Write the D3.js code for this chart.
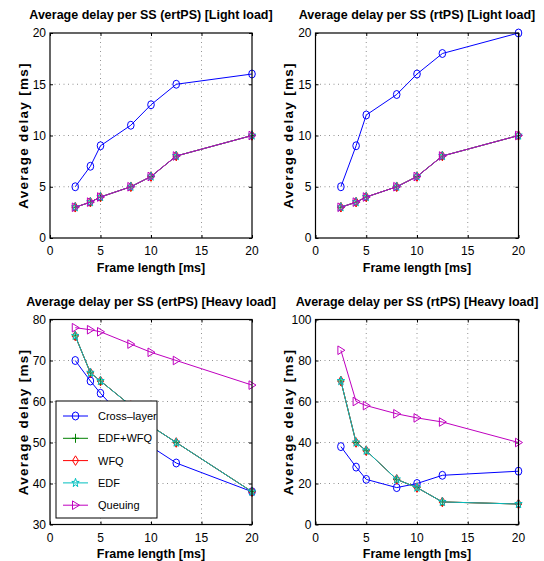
<!DOCTYPE html>
<html>
<head>
<meta charset="UTF-8" />
<title>Average delay per SS</title>
<script src="https://d3js.org/d3.v7.min.js"></script>
<style>
    body, html { margin: 0; padding: 0; background: #fff; }
    svg { display: block; font-family: "Liberation Sans", Arial, sans-serif; }
    .title, .xlabel, .ylabel { font-weight: bold; fill: #000; }
    .tick-label { font-size: 12px; fill: #000; }
    .grid { stroke: #777; stroke-width: 0.8; stroke-dasharray: 1 3.5; }
</style>
</head>
<body>
<div id="chart"></div>
<script>
// frame lengths (x axis) shared by all panels
const frameLen = [2.5, 4, 5, 8, 10, 12.5, 20];
const seriesNames = ["Cross\u2013layer", "EDF+WFQ", "WFQ", "EDF", "Queuing"];
const xTicks = [0, 5, 10, 15, 20];

// ertPS light load
const ertLightCross = [5, 7, 9, 11, 13, 15, 16];
const ertLightEdfWfq = [3, 3.5, 4, 5, 6, 8, 10];
const ertLightWfq = [3, 3.5, 4, 5, 6, 8, 10];
const ertLightEdf = [3, 3.5, 4, 5, 6, 8, 10];
const ertLightQueue = [3, 3.5, 4, 5, 6, 8, 10];

// rtPS light load
const rtLightCross = [5, 9, 12, 14, 16, 18, 20];
const rtLightEdfWfq = [3, 3.5, 4, 5, 6, 8, 10];
const rtLightWfq = [3, 3.5, 4, 5, 6, 8, 10];
const rtLightEdf = [3, 3.5, 4, 5, 6, 8, 10];
const rtLightQueue = [3, 3.5, 4, 5, 6, 8, 10];

// ertPS heavy load
const ertHeavyCross = [70, 65, 62, 54, 49, 45, 38];
const ertHeavyEdfWfq = [76, 67, 65, 59, 54, 50, 38];
const ertHeavyWfq = [76, 67, 65, 59, 54, 50, 38];
const ertHeavyEdf = [76, 67, 65, 59, 54, 50, 38];
const ertHeavyQueue = [78, 77.5, 77, 74, 72, 70, 64];

// rtPS heavy load
const rtHeavyCross = [38, 28, 22, 18, 20, 24, 26];
const rtHeavyEdfWfq = [70, 40, 36, 22, 18, 11, 10];
const rtHeavyWfq = [70, 40, 36, 22, 18, 11, 10];
const rtHeavyEdf = [70, 40, 36, 22, 18, 11, 10];
const rtHeavyQueue = [85, 60, 58, 54, 52, 50, 40];

const yTicksLight = [0, 5, 10, 15, 20];
const yTicksErtHeavy = [30, 40, 50, 60, 70, 80];
const yTicksRtHeavy = [0, 20, 40, 60, 80, 100];

const colors = ["#0000ff", "#008000", "#ff0000", "#00bfbf", "#bf00bf"];
const markers = ["circle", "plus", "diamond", "star", "triangle"];

const panels = [
    { title: "Average delay per SS (ertPS) [Light load]", box: [50, 252, 33, 238],
      yDomain: [0, 20], yTicks: yTicksLight,
      series: [ertLightCross, ertLightEdfWfq, ertLightWfq, ertLightEdf, ertLightQueue] },
    { title: "Average delay per SS (rtPS) [Light load]", box: [315.5, 518.5, 33, 238],
      yDomain: [0, 20], yTicks: yTicksLight,
      series: [rtLightCross, rtLightEdfWfq, rtLightWfq, rtLightEdf, rtLightQueue] },
    { title: "Average delay per SS (ertPS) [Heavy load]", box: [50, 252, 319.5, 524.5],
      yDomain: [30, 80], yTicks: yTicksErtHeavy, legend: true,
      series: [ertHeavyCross, ertHeavyEdfWfq, ertHeavyWfq, ertHeavyEdf, ertHeavyQueue] },
    { title: "Average delay per SS (rtPS) [Heavy load]", box: [315.5, 518.5, 319.5, 524.5],
      yDomain: [0, 100], yTicks: yTicksRtHeavy,
      series: [rtHeavyCross, rtHeavyEdfWfq, rtHeavyWfq, rtHeavyEdf, rtHeavyQueue] }
];

const width = 544, height = 561;
const svg = d3.select("#chart").append("svg")
    .attr("width", width)
    .attr("height", height);

// marker shapes, slightly narrower than tall like the source image
function markerPath(type) {
    switch (type) {
        case "circle": return null;
        case "plus": return "M-3.5,0H3.5M0,-4.5V4.5";
        case "diamond": return "M0,-4.8L3,0L0,4.8L-3,0Z";
        case "triangle": return "M-3,-4.3L4,0L-3,4.3Z";
        case "star": {
            const pts = [];
            for (let i = 0; i < 10; i++) {
                const r = i % 2 === 0 ? 4.6 : 1.9;
                const a = -Math.PI / 2 + i * Math.PI / 5;
                pts.push([r * Math.cos(a) * 0.85, r * Math.sin(a)]);
            }
            return "M" + pts.map(p => p.join(",")).join("L") + "Z";
        }
    }
}

function drawMarker(sel, type, color) {
    if (type === "circle") {
        sel.append("ellipse").attr("rx", 3.3).attr("ry", 4)
            .attr("fill", "none").attr("stroke", color).attr("stroke-width", 1);
    } else {
        sel.append("path").attr("d", markerPath(type))
            .attr("fill", "none").attr("stroke", color).attr("stroke-width", 1);
    }
}

panels.forEach(p => {
    const [x0, x1, y0, y1] = p.box;
    const x = d3.scaleLinear().domain([0, 20]).range([x0, x1]);
    const y = d3.scaleLinear().domain(p.yDomain).range([y1, y0]);
    const g = svg.append("g");

    // grid
    g.selectAll(".gx").data(xTicks.slice(1, -1)).enter().append("line")
        .attr("class", "grid")
        .attr("x1", d => x(d)).attr("x2", d => x(d))
        .attr("y1", y0).attr("y2", y1);
    g.selectAll(".gy").data(p.yTicks.slice(1, -1)).enter().append("line")
        .attr("class", "grid")
        .attr("x1", x0).attr("x2", x1)
        .attr("y1", d => y(d)).attr("y2", d => y(d));

    // axes with inward ticks on all sides
    g.append("g").attr("transform", `translate(0,${y1})`)
        .call(d3.axisTop(x).tickValues(xTicks).tickSize(3).tickFormat(""))
        .call(a => a.select(".domain").remove());
    g.append("g").attr("transform", `translate(0,${y0})`)
        .call(d3.axisBottom(x).tickValues(xTicks).tickSize(3).tickFormat(""))
        .call(a => a.select(".domain").remove());
    g.append("g").attr("transform", `translate(${x0},0)`)
        .call(d3.axisRight(y).tickValues(p.yTicks).tickSize(3).tickFormat(""))
        .call(a => a.select(".domain").remove());
    g.append("g").attr("transform", `translate(${x1},0)`)
        .call(d3.axisLeft(y).tickValues(p.yTicks).tickSize(3).tickFormat(""))
        .call(a => a.select(".domain").remove());

    // tick labels
    g.selectAll(".xt").data(xTicks).enter().append("text")
        .attr("class", "tick-label")
        .attr("x", d => x(d)).attr("y", y1 + 17)
        .attr("text-anchor", "middle")
        .text(d => d);
    g.selectAll(".yt").data(p.yTicks).enter().append("text")
        .attr("class", "tick-label")
        .attr("x", x0 - 4).attr("y", d => y(d) + 4.3)
        .attr("text-anchor", "end")
        .text(d => d);

    // series: line then markers, in plot order
    const line = d3.line().x((d, i) => x(frameLen[i])).y(d => y(d));
    p.series.forEach((vals, si) => {
        g.append("path").datum(vals)
            .attr("d", line)
            .attr("fill", "none")
            .attr("stroke", colors[si])
            .attr("stroke-width", 1);
        vals.forEach((v, i) => {
            const m = g.append("g").attr("transform", `translate(${x(frameLen[i])},${y(v)})`);
            drawMarker(m, markers[si], colors[si]);
        });
    });

    // box
    g.append("rect")
        .attr("x", x0).attr("y", y0)
        .attr("width", x1 - x0).attr("height", y1 - y0)
        .attr("fill", "none").attr("stroke", "#000").attr("stroke-width", 1.2);

    // labels
    g.append("text").attr("class", "title")
        .attr("x", (x0 + x1) / 2).attr("y", y0 - 14)
        .attr("text-anchor", "middle")
        .style("font-size", "12.5px")
        .text(p.title);
    g.append("text").attr("class", "xlabel")
        .attr("x", (x0 + x1) / 2).attr("y", y1 + 33.5)
        .attr("text-anchor", "middle")
        .style("font-size", "12.5px")
        .text("Frame length [ms]");
    g.append("text").attr("class", "ylabel")
        .attr("transform", `translate(${x0 - 27},${(y0 + y1) / 2}) rotate(-90)`)
        .attr("text-anchor", "middle")
        .attr("dy", "0.35em")
        .style("font-size", "13.5px")
        .style("letter-spacing", "1.3px")
        .text("Average delay [ms]");

    if (p.legend) {
        const lg = g.append("g");
        lg.append("rect")
            .attr("x", 56).attr("y", 401)
            .attr("width", 101).attr("height", 117)
            .attr("fill", "#fff").attr("stroke", "#000").attr("stroke-width", 1);
        seriesNames.forEach((name, si) => {
            const ly = 416 + si * 22.3;
            lg.append("line")
                .attr("x1", 63).attr("x2", 88)
                .attr("y1", ly).attr("y2", ly)
                .attr("stroke", colors[si]).attr("stroke-width", 1);
            const m = lg.append("g").attr("transform", `translate(75.5,${ly})`);
            drawMarker(m, markers[si], colors[si]);
            lg.append("text")
                .attr("x", 98).attr("y", ly + 4)
                .style("font-size", "11px")
                .text(name);
        });
    }
});
</script>
</body>
</html>
